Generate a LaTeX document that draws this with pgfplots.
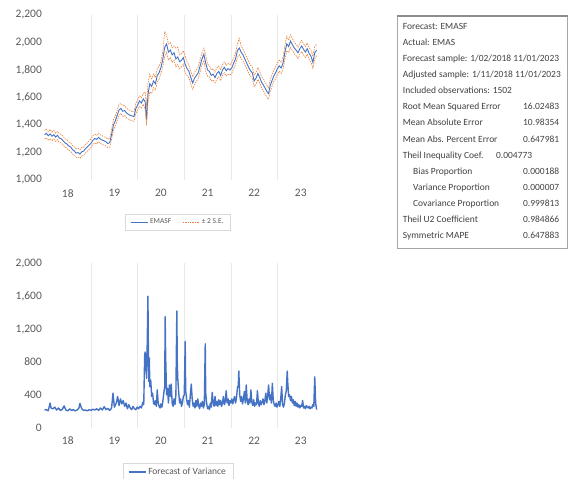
\documentclass[border=0pt]{standalone}
\usepackage{fontspec}
\setmainfont{Carlito}
\usepackage{pgfplots}
\pgfplotsset{compat=1.18}
\usepackage{pgfplotstable}
\definecolor{xlblue}{HTML}{4472C4}
\definecolor{xlorange}{HTML}{ED7D31}
\definecolor{xlgrid}{HTML}{E8E8E8}
\definecolor{xlleg}{HTML}{D9D9D9}
\definecolor{xltext}{HTML}{595959}
\definecolor{tbltext}{HTML}{404040}

\pgfplotstableread{
x f up lo
2018.00 1328 1360 1298
2018.04 1340 1372 1306
2018.08 1322 1350 1290
2018.12 1335 1368 1300
2018.16 1318 1348 1286
2018.20 1330 1362 1299
2018.24 1312 1340 1280
2018.28 1325 1355 1294
2018.32 1305 1336 1272
2018.36 1300 1330 1270
2018.40 1285 1318 1255
2018.44 1270 1298 1238
2018.48 1262 1294 1232
2018.52 1248 1276 1215
2018.56 1240 1272 1210
2018.60 1222 1250 1190
2018.64 1210 1242 1180
2018.68 1195 1226 1164
2018.72 1200 1230 1168
2018.76 1188 1218 1156
2018.80 1205 1236 1176
2018.84 1210 1238 1180
2018.88 1228 1260 1196
2018.92 1240 1270 1210
2018.96 1255 1286 1224
2019.00 1268 1300 1236
2019.04 1290 1322 1260
2019.08 1302 1334 1270
2019.12 1295 1325 1262
2019.16 1310 1342 1280
2019.20 1298 1328 1266
2019.24 1290 1322 1258
2019.28 1285 1314 1254
2019.32 1278 1310 1246
2019.36 1265 1296 1234
2019.40 1272 1304 1240
2019.44 1330 1368 1296
2019.48 1400 1440 1362
2019.52 1430 1466 1392
2019.56 1470 1508 1432
2019.60 1510 1550 1472
2019.64 1520 1556 1484
2019.68 1500 1540 1462
2019.72 1505 1540 1470
2019.76 1488 1522 1452
2019.80 1478 1512 1444
2019.84 1470 1506 1436
2019.88 1465 1498 1430
2019.92 1462 1496 1428
2019.96 1520 1556 1484
2020.00 1545 1582 1508
2020.04 1575 1612 1536
2020.08 1560 1598 1522
2020.12 1590 1630 1552
2020.16 1570 1640 1510
2020.19 1440 1530 1400
2020.22 1620 1700 1560
2020.26 1700 1770 1640
2020.30 1680 1736 1628
2020.34 1720 1770 1672
2020.38 1700 1746 1654
2020.42 1760 1810 1712
2020.46 1780 1826 1734
2020.50 1820 1866 1774
2020.54 1880 1936 1826
2020.58 1965 2080 1900
2020.62 1990 2050 1930
2020.66 1930 1990 1872
2020.70 1945 2000 1890
2020.74 1910 1962 1856
2020.78 1925 1975 1872
2020.82 1880 1960 1822
2020.86 1895 1965 1840
2020.90 1860 1910 1810
2020.94 1870 1918 1822
2020.98 1890 1940 1842
2021.02 1840 1900 1780
2021.06 1810 1858 1760
2021.10 1790 1836 1744
2021.14 1745 1792 1698
2021.18 1705 1750 1660
2021.22 1740 1784 1696
2021.26 1760 1802 1718
2021.30 1780 1822 1738
2021.34 1830 1872 1786
2021.38 1880 1924 1836
2021.42 1915 1958 1870
2021.46 1850 1910 1790
2021.50 1800 1842 1756
2021.54 1790 1830 1750
2021.58 1760 1800 1720
2021.62 1770 1810 1728
2021.66 1745 1784 1706
2021.70 1775 1816 1734
2021.74 1790 1828 1750
2021.78 1760 1800 1722
2021.82 1800 1840 1760
2021.86 1820 1858 1780
2021.90 1795 1834 1756
2021.94 1810 1848 1770
2021.98 1800 1838 1762
2022.02 1815 1854 1776
2022.06 1850 1888 1810
2022.10 1880 1920 1840
2022.14 1940 1990 1892
2022.18 1960 2030 1912
2022.22 1930 1976 1884
2022.26 1910 1952 1866
2022.30 1880 1922 1838
2022.34 1850 1894 1808
2022.38 1820 1862 1778
2022.42 1795 1836 1754
2022.46 1780 1822 1738
2022.50 1720 1762 1678
2022.54 1740 1782 1698
2022.58 1775 1818 1732
2022.62 1745 1786 1704
2022.66 1710 1752 1668
2022.70 1690 1734 1646
2022.74 1665 1708 1622
2022.78 1640 1684 1598
2022.81 1628 1670 1588
2022.84 1680 1726 1636
2022.88 1720 1762 1678
2022.92 1755 1796 1714
2022.96 1780 1822 1738
2023.00 1810 1850 1770
2023.04 1830 1872 1790
2023.08 1815 1856 1774
2023.12 1850 1892 1808
2023.16 1930 1980 1882
2023.20 1990 2045 1940
2023.24 1970 2016 1926
2023.28 2010 2056 1966
2023.32 1985 2030 1942
2023.36 1960 2002 1918
2023.40 1945 1986 1904
2023.44 1925 1966 1884
2023.48 1955 1996 1914
2023.52 1975 2016 1934
2023.56 1950 1990 1910
2023.60 1930 1970 1890
2023.64 1955 1996 1914
2023.68 1920 1962 1878
2023.72 1900 1942 1858
2023.76 1855 1900 1812
2023.80 1925 1970 1882
2023.84 1945 1986 1904
}\fcst

\pgfplotstableread{
x v
2018.00 215
2018.04 220
2018.08 205
2018.12 300
2018.14 240
2018.18 230
2018.22 250
2018.26 215
2018.30 240
2018.34 210
2018.38 220
2018.42 265
2018.46 215
2018.50 205
2018.54 230
2018.58 210
2018.62 220
2018.66 205
2018.70 215
2018.74 240
2018.76 295
2018.80 230
2018.84 210
2018.88 215
2018.92 205
2018.96 220
2019.00 210
2019.04 225
2019.08 215
2019.12 230
2019.16 210
2019.20 240
2019.24 215
2019.28 255
2019.32 220
2019.36 235
2019.40 210
2019.44 240
2019.47 420
2019.50 250
2019.54 300
2019.57 380
2019.60 270
2019.63 350
2019.66 290
2019.69 330
2019.72 260
2019.75 300
2019.78 230
2019.81 280
2019.84 240
2019.87 220
2019.90 260
2019.93 230
2019.96 220
2019.99 250
2020.02 230
2020.05 260
2020.08 240
2020.11 310
2020.13 280
2020.15 880
2020.16 920
2020.17 700
2020.18 900
2020.19 600
2020.20 850
2020.22 1600
2020.23 900
2020.24 560
2020.25 850
2020.26 500
2020.28 580
2020.30 380
2020.32 420
2020.34 300
2020.36 280
2020.38 330
2020.40 260
2020.42 460
2020.44 300
2020.46 260
2020.48 240
2020.50 290
2020.52 250
2020.54 320
2020.56 420
2020.58 500
2020.59 1350
2020.60 880
2020.62 400
2020.64 480
2020.66 300
2020.68 520
2020.70 380
2020.72 530
2020.74 300
2020.76 260
2020.78 350
2020.80 280
2020.82 400
2020.84 1420
2020.85 800
2020.86 600
2020.88 430
2020.90 300
2020.92 350
2020.94 260
2020.96 300
2020.98 380
2021.00 400
2021.02 1050
2021.03 450
2021.05 350
2021.07 280
2021.09 330
2021.11 250
2021.13 400
2021.15 530
2021.17 350
2021.19 260
2021.21 300
2021.23 240
2021.25 330
2021.27 260
2021.29 350
2021.31 270
2021.33 230
2021.35 300
2021.37 260
2021.39 320
2021.41 240
2021.43 280
2021.45 1020
2021.46 420
2021.48 300
2021.50 230
2021.52 260
2021.54 220
2021.56 300
2021.58 250
2021.60 430
2021.62 300
2021.64 260
2021.66 380
2021.68 270
2021.70 320
2021.72 260
2021.74 340
2021.76 280
2021.78 330
2021.80 260
2021.82 300
2021.84 380
2021.86 280
2021.88 320
2021.90 450
2021.92 300
2021.94 350
2021.96 270
2021.98 330
2022.00 300
2022.02 350
2022.04 290
2022.06 340
2022.08 380
2022.10 300
2022.12 360
2022.14 480
2022.16 520
2022.17 690
2022.19 400
2022.21 320
2022.23 380
2022.25 290
2022.27 350
2022.29 440
2022.31 300
2022.33 520
2022.35 330
2022.37 280
2022.39 350
2022.41 300
2022.43 460
2022.45 310
2022.47 270
2022.49 340
2022.51 260
2022.53 300
2022.55 280
2022.57 450
2022.59 300
2022.61 260
2022.63 330
2022.65 280
2022.67 310
2022.69 350
2022.71 280
2022.73 330
2022.75 420
2022.77 300
2022.79 390
2022.81 520
2022.83 340
2022.85 400
2022.87 300
2022.89 540
2022.91 330
2022.93 280
2022.95 260
2022.97 300
2022.99 250
2023.01 280
2023.03 320
2023.05 260
2023.07 350
2023.09 500
2023.11 280
2023.13 250
2023.15 300
2023.17 400
2023.19 450
2023.21 690
2023.22 560
2023.24 380
2023.26 400
2023.28 330
2023.30 380
2023.32 300
2023.34 340
2023.36 270
2023.38 320
2023.40 260
2023.42 300
2023.44 250
2023.46 280
2023.48 240
2023.50 270
2023.52 260
2023.54 330
2023.56 240
2023.58 260
2023.60 230
2023.62 270
2023.64 250
2023.66 240
2023.68 260
2023.70 230
2023.72 250
2023.74 240
2023.76 280
2023.78 260
2023.80 620
2023.82 300
2023.84 220
}\varf

\pgfplotsset{xlstyle/.style={
  scale only axis,
  axis line style={draw=none},
  xmin=2018, xmax=2023.84,
  xtick={2018.5,2019.5,2020.5,2021.5,2022.5,2023.5},
  xticklabels={18,19,20,21,22,23},
  minor xtick={2019,2020,2021,2022,2023},
  xminorgrids,
  minor grid style={draw=xlgrid, line width=0.5pt},
  major tick length=0pt, minor tick length=0pt,
  tick label style={font=\fontsize{11.5}{12}\selectfont, text=xltext},
  yticklabel style={anchor=east, inner sep=0pt, xshift=-2.5bp},
  xticklabel style={anchor=north, inner sep=0pt, yshift=-9bp},
  /pgf/number format/assume math mode=true,
  /pgf/number format/1000 sep={,},
  scaled y ticks=false,
  clip=false,
  legend cell align=left,
  legend image code/.code={\draw[##1] (0bp,0bp) -- (17bp,0bp);},
}}

\begin{document}
\begin{tikzpicture}
\useasboundingbox (0bp,0bp) rectangle (569bp,479bp);

\begin{axis}[xlstyle,
  at={(44.5bp,299bp)}, anchor=south west,
  width=272.1bp, height=165bp,
  ymin=1000, ymax=2200,
  ytick={1000,1200,1400,1600,1800,2000,2200},
  legend columns=2,
  legend style={at={(0.49,-0.256)}, anchor=center, draw=xlleg,
    font=\fontsize{7.5}{9}\selectfont, text=xltext,
    inner xsep=5bp, inner ysep=3bp,
    /tikz/every even column/.append style={column sep=9bp}},
]
\addplot[xlblue, line width=0.9pt] table[x=x, y=f] {\fcst};
\addlegendentry{EMASF}
\addplot[xlorange, line width=0.6pt, dash pattern=on 1.5pt off 1pt] table[x=x, y=up] {\fcst};
\addlegendentry{± 2 S.E.}
\addplot[xlorange, line width=0.6pt, dash pattern=on 1.5pt off 1pt, forget plot] table[x=x, y=lo] {\fcst};
\end{axis}

\begin{axis}[xlstyle,
  at={(44.5bp,51.3bp)}, anchor=south west,
  width=272.1bp, height=164.4bp,
  ymin=0, ymax=2000,
  ytick={0,400,800,1200,1600,2000},
  legend style={at={(0.49,-0.27)}, anchor=center, draw=xlleg,
    font=\fontsize{9.5}{11}\selectfont, text=xltext,
    inner xsep=5bp, inner ysep=3bp},
]
\addplot[xlblue, line width=1.4pt, line join=round] table[x=x, y=v] {\varf};
\addlegendentry{Forecast of Variance}
\end{axis}

% statistics table
\begin{scope}[x=1bp,y=1bp]
\draw[draw=gray!70, line width=0.8pt] (397.3,479-16) rectangle (567.5,479-248.3);
\draw[draw=gray!90, line width=1.2pt] (397.3,479-16) -- (567.5,479-16);
\begin{scope}[every node/.style={anchor=base west, inner sep=0pt, text=tbltext,
    font=\fontsize{9.5}{11}\selectfont}]
\node at (402.7,479-29.3) {Forecast: EMASF};
\node at (402.7,479-45.4) {Actual: EMAS};
\node at (402.7,479-61.5) {Forecast sample: 1/02/2018 11/01/2023};
\node at (402.7,479-77.6) {Adjusted sample: 1/11/2018 11/01/2023};
\node at (402.7,479-93.7) {Included observations: 1502};
\node at (402.7,479-109.8) {Root Mean Squared Error};
\node at (523,479-109.8) {16.02483};
\node at (402.7,479-125.9) {Mean Absolute Error};
\node at (523,479-125.9) {10.98354};
\node at (402.7,479-142.0) {Mean Abs. Percent Error};
\node at (523,479-142.0) {0.647981};
\node at (402.7,479-158.1) {Theil Inequality Coef.};
\node at (496,479-158.1) {0.004773};
\node at (413,479-174.2) {Bias Proportion};
\node at (523,479-174.2) {0.000188};
\node at (413,479-190.3) {Variance Proportion};
\node at (523,479-190.3) {0.000007};
\node at (413,479-206.4) {Covariance Proportion};
\node at (523,479-206.4) {0.999813};
\node at (402.7,479-222.5) {Theil U2 Coefficient};
\node at (523,479-222.5) {0.984866};
\node at (402.7,479-238.6) {Symmetric MAPE};
\node at (523,479-238.6) {0.647883};
\end{scope}
\end{scope}
\end{tikzpicture}
\end{document}
